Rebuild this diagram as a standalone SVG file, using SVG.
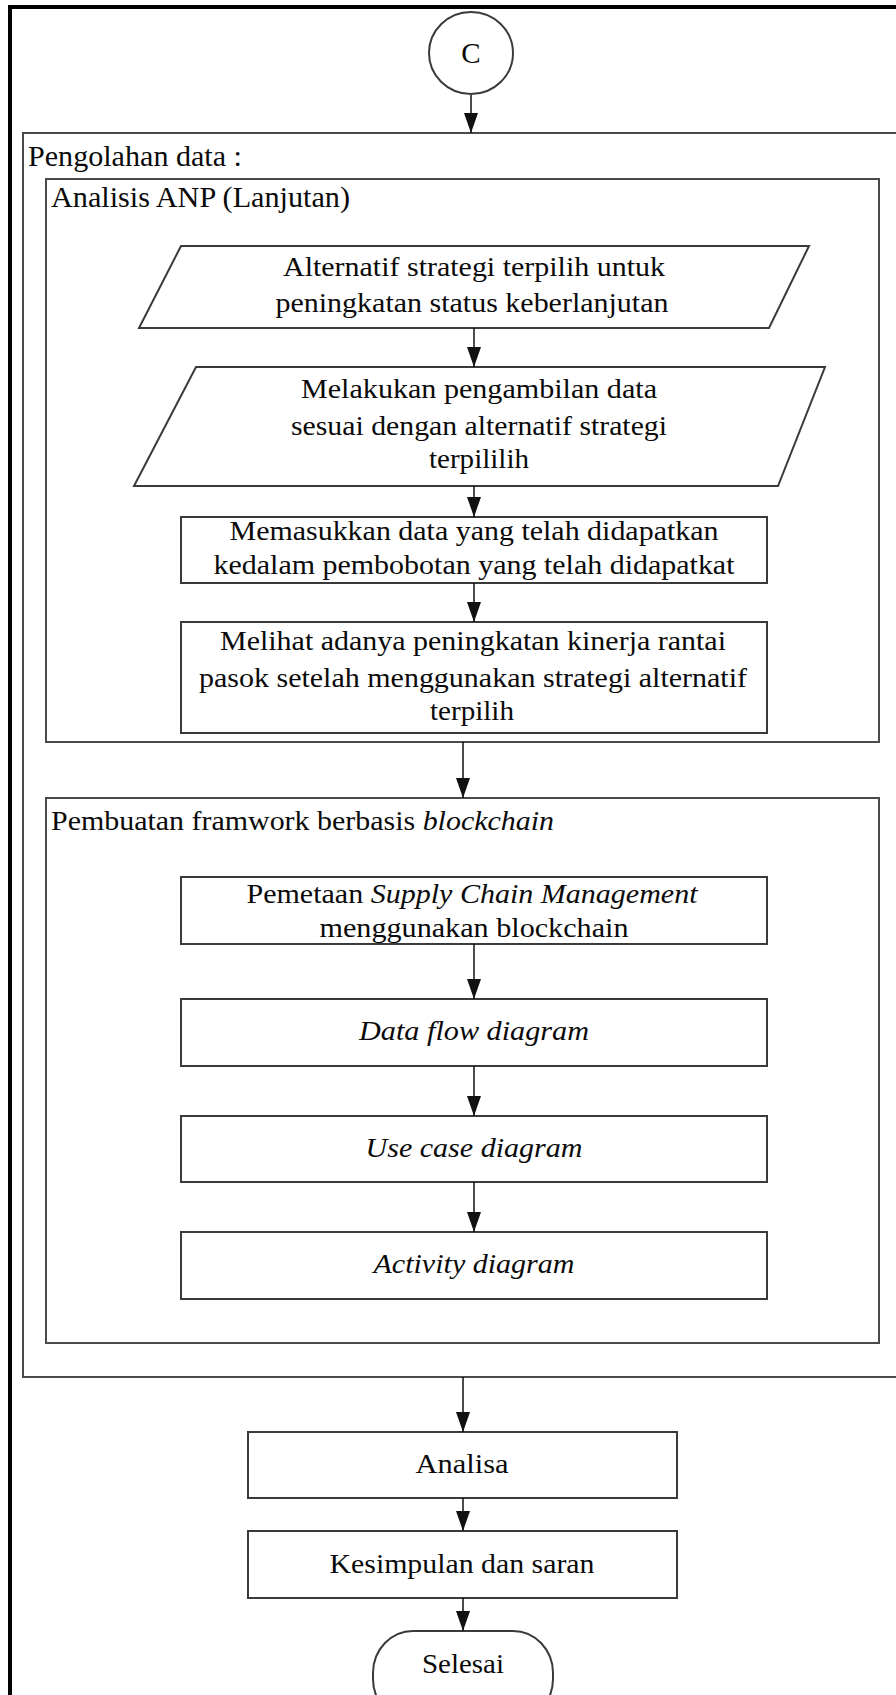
<svg xmlns="http://www.w3.org/2000/svg" width="896" height="1695" viewBox="0 0 896 1695">
  <defs>
    <marker id="arrowDown" markerUnits="userSpaceOnUse" markerWidth="20" markerHeight="14" refX="20" refY="7" orient="auto" viewBox="0 0 20 14">
      <path d="M0,0 L20,7 L0,14 Z" fill="#111"/>
    </marker>
  </defs>
  <style>
    .frame { fill: none; stroke: #000; stroke-width: 4; }
    .group { fill: none; stroke: #4a4a4a; stroke-width: 2; }
    .shape { fill: #fff; stroke: #3a3a3a; stroke-width: 2; }
    .conn { fill: none; stroke: #111; stroke-width: 1.5; marker-end: url(#arrowDown); }
    text { font-family: "Liberation Serif", "Times New Roman", serif; font-size: 28px; fill: #0a0a0a; }
    .c { text-anchor: middle; }
    .it { font-style: italic; }
    .title { font-size: 29px; }
  </style>

  <rect width="896" height="1695" fill="#fff"/>

  <!-- outer page frame (open on the right and bottom) -->
  <path class="frame" d="M10,1700 V7 H900"/>

  <!-- connector C -->
  <g id="node-c">
    <ellipse class="shape" cx="471" cy="53" rx="42" ry="41"/>
    <text class="c" x="471" y="63" style="font-size:29px">C</text>
  </g>

  <!-- Pengolahan data container -->
  <g id="group-pengolahan">
    <path class="group" d="M900,133 H23 V1377 H900"/>
    <text class="title" x="28" y="166" textLength="214" lengthAdjust="spacingAndGlyphs">Pengolahan data :</text>
  </g>

  <!-- Analisis ANP container -->
  <g id="group-anp">
    <rect class="group" x="46" y="179" width="833" height="563"/>
    <text class="title" x="51" y="207" textLength="299" lengthAdjust="spacingAndGlyphs">Analisis ANP (Lanjutan)</text>
  </g>

  <g id="node-alternatif">
    <polygon class="shape" points="181,246 809,246 769,328 139,328"/>
    <text class="c" x="474" y="276" textLength="382" lengthAdjust="spacingAndGlyphs">Alternatif strategi terpilih untuk</text>
    <text class="c" x="472" y="312" textLength="393" lengthAdjust="spacingAndGlyphs">peningkatan status keberlanjutan</text>
  </g>

  <g id="node-pengambilan">
    <polygon class="shape" points="196,367 825,367 778,486 134,486"/>
    <text class="c" x="479" y="398" textLength="356" lengthAdjust="spacingAndGlyphs">Melakukan pengambilan data</text>
    <text class="c" x="479" y="435" textLength="376" lengthAdjust="spacingAndGlyphs">sesuai dengan alternatif strategi</text>
    <text class="c" x="479" y="468" textLength="100" lengthAdjust="spacingAndGlyphs">terpililih</text>
  </g>

  <g id="node-memasukkan">
    <rect class="shape" x="181" y="517" width="586" height="66"/>
    <text class="c" x="474" y="540" textLength="489" lengthAdjust="spacingAndGlyphs">Memasukkan data yang telah didapatkan</text>
    <text class="c" x="474" y="574" textLength="521" lengthAdjust="spacingAndGlyphs">kedalam pembobotan yang telah didapatkat</text>
  </g>

  <g id="node-melihat">
    <rect class="shape" x="181" y="622" width="586" height="111"/>
    <text class="c" x="473" y="650" textLength="506" lengthAdjust="spacingAndGlyphs">Melihat adanya peningkatan kinerja rantai</text>
    <text class="c" x="473" y="687" textLength="548" lengthAdjust="spacingAndGlyphs">pasok setelah menggunakan strategi alternatif</text>
    <text class="c" x="472" y="720" textLength="84" lengthAdjust="spacingAndGlyphs">terpilih</text>
  </g>

  <!-- Pembuatan framework container -->
  <g id="group-framework">
    <rect class="group" x="46" y="798" width="833" height="545"/>
    <text x="51" y="830" textLength="503" lengthAdjust="spacingAndGlyphs">Pembuatan framwork berbasis <tspan class="it">blockchain</tspan></text>
  </g>

  <g id="node-pemetaan">
    <rect class="shape" x="181" y="877" width="586" height="67"/>
    <text class="c" x="472" y="903" textLength="451" lengthAdjust="spacingAndGlyphs">Pemetaan <tspan class="it">Supply Chain Management</tspan></text>
    <text class="c" x="474" y="937" textLength="309" lengthAdjust="spacingAndGlyphs">menggunakan blockchain</text>
  </g>

  <g id="node-dfd">
    <rect class="shape" x="181" y="999" width="586" height="67"/>
    <text class="c it" x="474" y="1040" textLength="230" lengthAdjust="spacingAndGlyphs">Data flow diagram</text>
  </g>

  <g id="node-usecase">
    <rect class="shape" x="181" y="1116" width="586" height="66"/>
    <text class="c it" x="474" y="1157" textLength="217" lengthAdjust="spacingAndGlyphs">Use case diagram</text>
  </g>

  <g id="node-activity">
    <rect class="shape" x="181" y="1232" width="586" height="67"/>
    <text class="c it" x="474" y="1273" textLength="201" lengthAdjust="spacingAndGlyphs">Activity diagram</text>
  </g>

  <g id="node-analisa">
    <rect class="shape" x="248" y="1432" width="429" height="66"/>
    <text class="c" x="462" y="1473" textLength="93" lengthAdjust="spacingAndGlyphs">Analisa</text>
  </g>

  <g id="node-kesimpulan">
    <rect class="shape" x="248" y="1531" width="429" height="67"/>
    <text class="c" x="462" y="1573" textLength="265" lengthAdjust="spacingAndGlyphs">Kesimpulan dan saran</text>
  </g>

  <g id="node-selesai">
    <rect class="shape" x="373" y="1631" width="180" height="90" rx="40" ry="42"/>
    <text class="c" x="463" y="1673" textLength="82" lengthAdjust="spacingAndGlyphs">Selesai</text>
  </g>

  <!-- connectors -->
  <g id="connectors">
    <path class="conn" d="M471,95 V133"/>
    <path class="conn" d="M474,328 V367"/>
    <path class="conn" d="M474,486 V517"/>
    <path class="conn" d="M474,583 V622"/>
    <path class="conn" d="M463,742 V798"/>
    <path class="conn" d="M474,944 V999"/>
    <path class="conn" d="M474,1066 V1116"/>
    <path class="conn" d="M474,1182 V1232"/>
    <path class="conn" d="M463,1377 V1432"/>
    <path class="conn" d="M463,1498 V1531"/>
    <path class="conn" d="M463,1598 V1631"/>
  </g>
</svg>
